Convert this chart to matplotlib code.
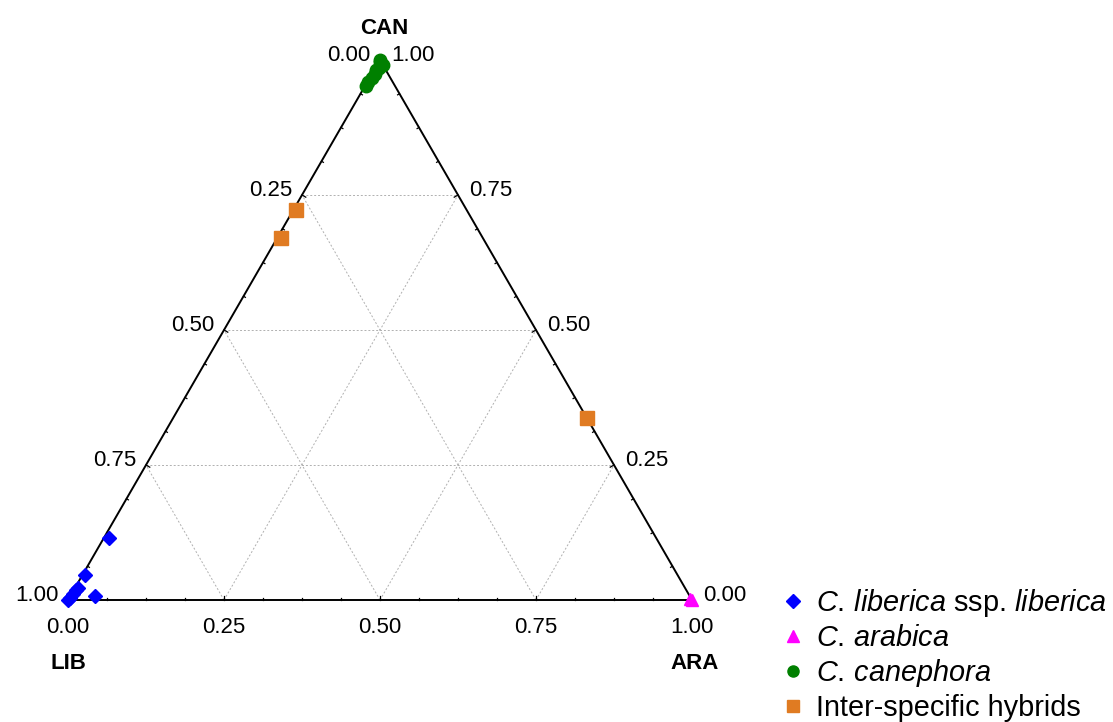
import numpy as np
import matplotlib
matplotlib.use("Agg")
import matplotlib.pyplot as plt
from matplotlib.lines import Line2D

plt.rcParams['font.family'] = ['Liberation Sans', 'DejaVu Sans']
plt.rcParams['mathtext.fontset'] = 'custom'
plt.rcParams['mathtext.rm'] = 'Liberation Sans'
plt.rcParams['mathtext.it'] = 'Liberation Sans:italic'

# compositions as (ARA, CAN) fractions, LIB = 1 - ARA - CAN
lib_ara = [0.000, 0.001, 0.003, 0.004, 0.005, 0.004, 0.040, 0.008]
lib_can = [0.000, 0.004, 0.011, 0.019, 0.022, 0.046, 0.007, 0.115]
arab_ara = [1.000, 0.995]
arab_can = [0.000, 0.002]
cane_ara = [0.000, 0.002, 0.009, 0.006, 0.003, 0.005, 0.004, 0.001, 0.002]
cane_can = [1.000, 0.996, 0.991, 0.985, 0.981, 0.975, 0.967, 0.960, 0.952]
hyb_ara = [0.004, 0.006, 0.663]
hyb_can = [0.722, 0.670, 0.337]

tick_vals = [0.0, 0.25, 0.5, 0.75, 1.0]
tick_labels = ['0.00', '0.25', '0.50', '0.75', '1.00']

H = np.sqrt(3) / 2


def to_xy(ara, can):
    ara = np.asarray(ara)
    can = np.asarray(can)
    return ara + can / 2, can * H


fig = plt.figure(figsize=(11.13, 7.22), dpi=100)
ax = fig.add_axes([68 / 1113, 122 / 722, 624 / 1113, 540 / 722])
ax.set_xlim(0, 1)
ax.set_ylim(0, H)
ax.axis('off')

# grid lines
for v in [0.25, 0.5, 0.75]:
    # constant CAN
    x1, y1 = to_xy(0, v)
    x2, y2 = to_xy(1 - v, v)
    ax.plot([x1, x2], [y1, y2], color='#b0b0b0', lw=0.7, ls=(0, (2, 2)), zorder=1)
    # constant ARA
    x1, y1 = to_xy(v, 0)
    x2, y2 = to_xy(v, 1 - v)
    ax.plot([x1, x2], [y1, y2], color='#b0b0b0', lw=0.7, ls=(0, (2, 2)), zorder=1)
    # constant LIB
    x1, y1 = to_xy(1 - v, 0)
    x2, y2 = to_xy(0, 1 - v)
    ax.plot([x1, x2], [y1, y2], color='#b0b0b0', lw=0.7, ls=(0, (2, 2)), zorder=1)

# triangle
tx, ty = to_xy([0, 1, 0, 0], [0, 0, 1, 0])
ax.plot(tx, ty, color='black', lw=1.4, zorder=2, clip_on=False)

# small ticks, pointing inward
for i in range(1, 16):
    f = i / 16
    ln = 0.007 if i % 4 == 0 else 0.0035
    # bottom edge
    x, y = to_xy(f, 0)
    ax.plot([x, x], [y, y + ln], color='black', lw=0.9, clip_on=False)
    # left edge
    x, y = to_xy(0, f)
    ax.plot([x, x + ln * H], [y, y - ln * 0.5], color='black', lw=0.9, clip_on=False)
    # right edge
    x, y = to_xy(1 - f, f)
    ax.plot([x, x - ln * H], [y, y - ln * 0.5], color='black', lw=0.9, clip_on=False)

fs = 16
for v, lab in zip(tick_vals, tick_labels):
    # bottom: ARA
    x, y = to_xy(v, 0)
    ax.annotate(lab, (x, y), xytext=(0, -20), textcoords='offset points',
                ha='center', va='center', fontsize=fs, annotation_clip=False)
    # left: LIB (1 at LIB vertex)
    x, y = to_xy(0, 1 - v)
    ax.annotate(lab, (x, y), xytext=(-7, 3), textcoords='offset points',
                ha='right', va='center', fontsize=fs, annotation_clip=False)
    # right: CAN
    x, y = to_xy(1 - v, v)
    ax.annotate(lab, (x, y), xytext=(8, 3), textcoords='offset points',
                ha='left', va='center', fontsize=fs, annotation_clip=False)

ax.annotate('LIB', to_xy(0, 0), xytext=(0, -46), textcoords='offset points',
            ha='center', va='center', fontsize=16, fontweight='bold', annotation_clip=False)
ax.annotate('ARA', to_xy(1, 0), xytext=(2, -46), textcoords='offset points',
            ha='center', va='center', fontsize=16, fontweight='bold', annotation_clip=False)
ax.annotate('CAN', to_xy(0, 1), xytext=(3, 23), textcoords='offset points',
            ha='center', va='center', fontsize=16, fontweight='bold', annotation_clip=False)

ms = 8
x, y = to_xy(lib_ara, lib_can)
ax.plot(x, y, 'D', color='#0000ff', ms=ms - 1, ls='none', clip_on=False, zorder=4)
x, y = to_xy(arab_ara, arab_can)
ax.plot(x, y, '^', color='#ff00ff', ms=ms, ls='none', clip_on=False, zorder=4)
x, y = to_xy(cane_ara, cane_can)
ax.plot(x, y, 'o', color='#008000', ms=ms + 1, ls='none', clip_on=False, zorder=4)
x, y = to_xy(hyb_ara, hyb_can)
ax.plot(x, y, 's', color='#e07b22', ms=ms + 2, ls='none', clip_on=False, zorder=4)

handles = [
    Line2D([], [], marker='D', color='#0000ff', ls='none', ms=7),
    Line2D([], [], marker='^', color='#ff00ff', ls='none', ms=8),
    Line2D([], [], marker='o', color='#008000', ls='none', ms=8),
    Line2D([], [], marker='s', color='#e07b22', ls='none', ms=8),
]
labels = [r'$\mathit{C.\,liberica}$ ssp. $\mathit{liberica}$', r'$\mathit{C.\,arabica}$',
          r'$\mathit{C.\,canephora}$', 'Inter-specific hybrids']
fig.legend(handles, labels, loc='lower left', bbox_to_anchor=(0.679, -0.036),
           frameon=False, fontsize=20.8, handlelength=0.8, handletextpad=0.4,
           labelspacing=0.17)

fig.savefig('out.png', dpi=100)
